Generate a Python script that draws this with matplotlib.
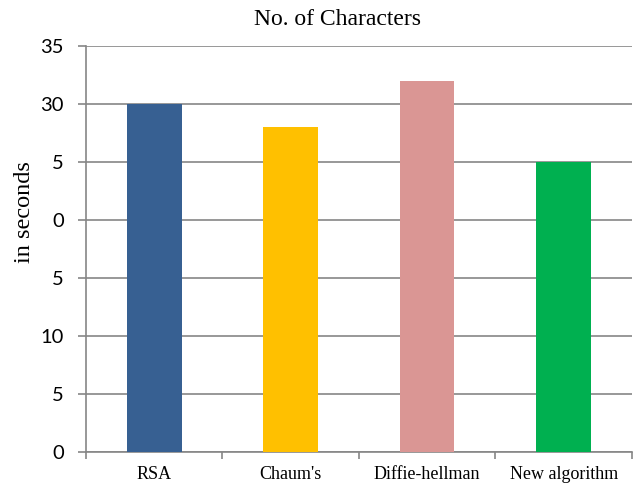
import numpy as np
import matplotlib
matplotlib.use('Agg')
import matplotlib.pyplot as plt

# data
algorithms = ['RSA', "Chaum's", 'Diffie-hellman', 'New algorithm']
times = [30, 28, 32, 25]
bar_colors = ['#376092', '#FFC000', '#DA9694', '#00B050']
y_ticks = [0, 5, 10, 15, 20, 25, 30, 35]
y_tick_labels = ['0', '5', '10', '5', '0', '5', '30', '35']  # as printed in the source

grid_color = '#868686'

fig = plt.figure(figsize=(6.37, 4.84), dpi=100)
ax = fig.add_axes([0.135, 0.066, 0.857, 0.839])

x = np.arange(len(algorithms))
ax.bar(x, times, width=0.4, color=bar_colors, zorder=3)

ax.set_xlim(-0.5, len(algorithms) - 0.5)
ax.set_ylim(0, 35)
ax.set_yticks(y_ticks)
ax.set_yticklabels(y_tick_labels, family='Lato', fontsize=14.5)
ax.yaxis.grid(True, color=grid_color, linewidth=1.2, zorder=0)

# category labels centred, tick marks at the category borders
ax.set_xticks(x)
ax.set_xticklabels(algorithms, family='Liberation Serif', fontsize=13)
ax.tick_params(axis='x', length=0, pad=10)
ax.set_xticks(np.arange(len(algorithms) + 1) - 0.5, minor=True)
ax.tick_params(axis='x', which='minor', length=5, color=grid_color, width=1.2)
ax.tick_params(axis='y', length=6, color=grid_color, width=1.2, pad=10)

for side in ['top', 'right']:
    ax.spines[side].set_visible(False)
for side in ['left', 'bottom']:
    ax.spines[side].set_color(grid_color)
    ax.spines[side].set_linewidth(1.2)

ax.set_ylabel('in seconds', family='Liberation Serif', fontsize=17.5)
ax.yaxis.set_label_coords(-0.093, 0.591)
fig.text(337 / 637, 0.948, 'No. of Characters', family='Liberation Serif',
         fontsize=17, ha='center', va='baseline')

fig.savefig('out.png', dpi=100)
